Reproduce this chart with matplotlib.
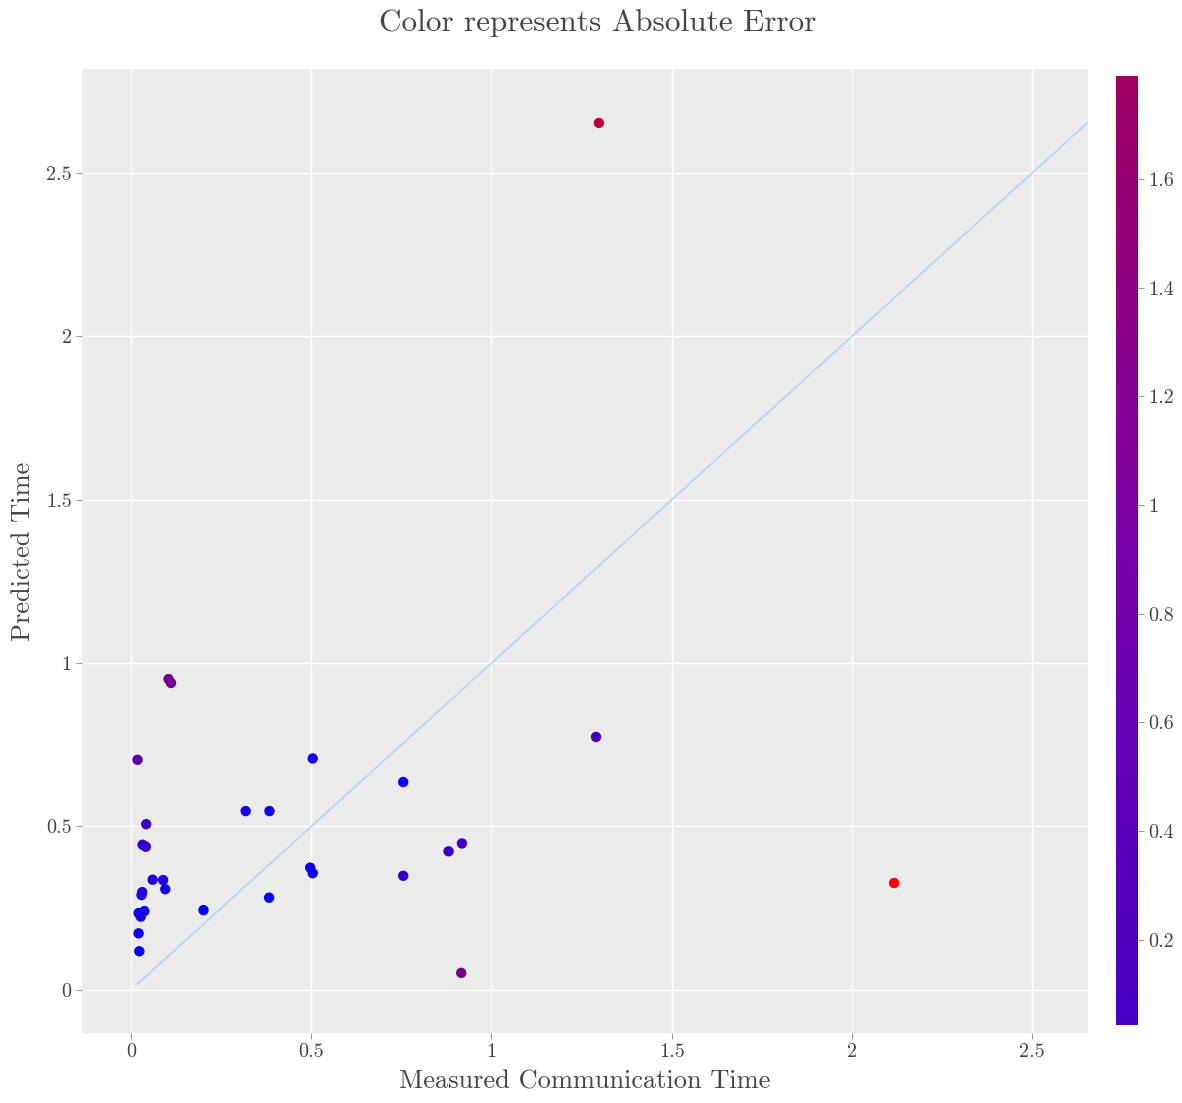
import matplotlib
matplotlib.use('Agg')
import matplotlib.pyplot as plt
from matplotlib.colors import LinearSegmentedColormap, Normalize
import numpy as np

plt.rcParams['font.family'] = ['cmr10', 'DejaVu Serif']
plt.rcParams['axes.formatter.use_mathtext'] = True

# Данные: измеренное и предсказанное время
measured = [1.298, 2.117, 1.290, 0.104, 0.111, 0.018, 0.504, 0.755, 0.318, 0.384,
            0.042, 0.032, 0.041, 0.918, 0.881, 0.497, 0.504, 0.755, 0.060, 0.089,
            0.095, 0.031, 0.029, 0.383, 0.201, 0.037, 0.021, 0.027, 0.021, 0.023,
            0.916]
predicted = [2.653, 0.327, 0.774, 0.951, 0.939, 0.704, 0.708, 0.636, 0.547, 0.547,
             0.507, 0.444, 0.438, 0.448, 0.424, 0.374, 0.357, 0.349, 0.337, 0.336,
             0.308, 0.299, 0.290, 0.282, 0.244, 0.241, 0.235, 0.224, 0.173, 0.118,
             0.052]
x_ticks = [0, 0.5, 1, 1.5, 2, 2.5]
x_tick_labels = ['0', '0.5', '1', '1.5', '2', '2.5']
y_ticks = [0, 0.5, 1, 1.5, 2, 2.5]
y_tick_labels = ['0', '0.5', '1', '1.5', '2', '2.5']
cb_ticks = [0.2, 0.4, 0.6, 0.8, 1.0, 1.2, 1.4, 1.6]
cb_tick_labels = ['0.2', '0.4', '0.6', '0.8', '1', '1.2', '1.4', '1.6']

meas = np.array(measured)
pred = np.array(predicted)
err = np.abs(meas - pred)

text_col = '#444444'
fig = plt.figure(figsize=(11.82, 11.03), dpi=100)
ax = fig.add_axes([0.0694, 0.0635, 0.8511, 0.8739])
ax.set_facecolor('#ebebeb')

# Точки: цвет от синего к красному по ошибке
bluered = LinearSegmentedColormap.from_list('bluered', ['#0000ff', '#ff0000'])
norm = Normalize(err.min(), err.max())
ax.scatter(meas, pred, c=err, cmap=bluered, norm=norm, s=56, linewidths=0, zorder=3)

# Диагональ y = x
lo = min(meas.min(), pred.min())
hi = max(meas.max(), pred.max())
ax.plot([lo, hi], [lo, hi], color='#b8d4f5', linewidth=1.2, zorder=2)

ax.set_xlim(-0.136, 2.655)
ax.set_ylim(-0.132, 2.818)
ax.set_xticks(x_ticks)
ax.set_xticklabels(x_tick_labels)
ax.set_yticks(y_ticks)
ax.set_yticklabels(y_tick_labels)
ax.grid(True, color='white', linewidth=1.0)
ax.set_axisbelow(True)
for sp in ax.spines.values():
    sp.set_visible(False)
ax.tick_params(colors=text_col, labelsize=14.5, length=4, width=0.8, color='#999999')
ax.set_xlabel('Measured Communication Time', fontsize=19, color=text_col, labelpad=6)
ax.set_ylabel('Predicted Time', fontsize=19, color=text_col, labelpad=8)
fig.text(0.506, 0.979, 'Color represents Absolute Error', ha='center', va='center',
         fontsize=22.5, color=text_col)

# Цветовая шкала
cax = fig.add_axes([1116 / 1182, (1103 - 1025) / 1103, 22 / 1182, 949 / 1103])
cb_cmap = LinearSegmentedColormap.from_list('cb', ['#4800c4', '#7800a8', '#a00062'])
grad = np.linspace(err.min(), err.max(), 256).reshape(-1, 1)
cax.imshow(grad, aspect='auto', cmap=cb_cmap, origin='lower',
           extent=[0, 1, err.min(), err.max()])
cax.set_xticks([])
cax.yaxis.tick_right()
cax.set_yticks(cb_ticks)
cax.set_yticklabels(cb_tick_labels)
cax.tick_params(colors=text_col, labelsize=14.5, length=4, width=0.8, color='#999999')
for sp in cax.spines.values():
    sp.set_visible(False)

fig.savefig('out.png', dpi=100)
